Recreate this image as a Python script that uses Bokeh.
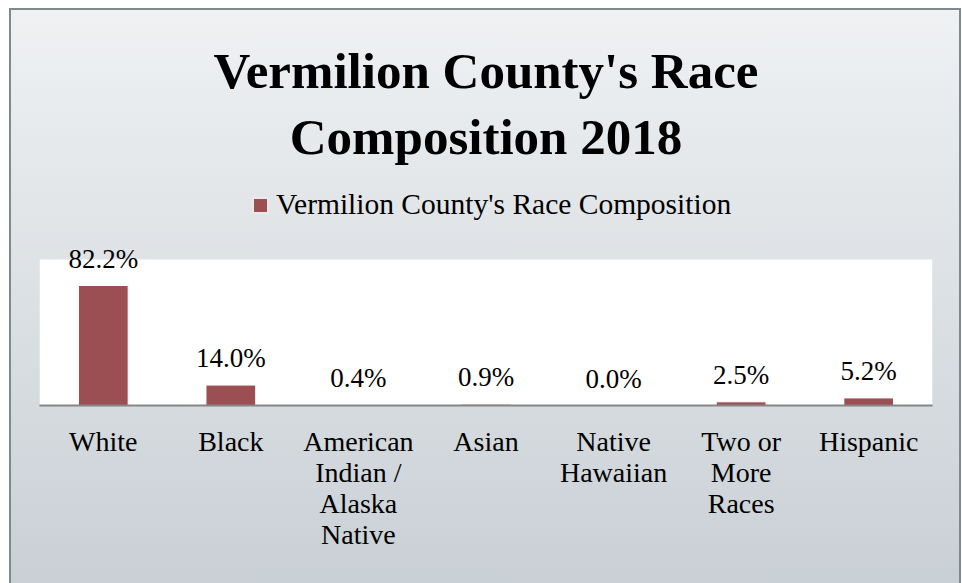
from bokeh.plotting import figure
from bokeh.models import ColumnDataSource, Legend, LegendItem, Title, FactorRange, BoxAnnotation
from bokeh.core.properties import value
from bokeh.embed import file_html
from bokeh.resources import INLINE

categories = ["White", "Black", "American\nIndian /\nAlaska\nNative", "Asian",
              "Native\nHawaiian", "Two or\nMore\nRaces", "Hispanic"]
shares = [82.2, 14.0, 0.4, 0.9, 0.0, 2.5, 5.2]
share_labels = ["82.2%", "14.0%", "0.4%", "0.9%", "0.0%", "2.5%", "5.2%"]
series_name = "Vermilion County's Race Composition"
title_lines = ["Vermilion County's Race", "Composition 2018"]
axis_max = 100

FONT = "Liberation Serif"
BAR = "#9b4f52"

src = ColumnDataSource(dict(cat=categories, val=shares, lab=share_labels))

# frame spans the white plot area plus the legend band above it
p = figure(width=952, height=578, x_range=FactorRange(*categories, range_padding=0),
           y_range=(0, 155.5), output_backend="svg", toolbar_location=None,
           min_border_left=30, min_border_right=29, min_border_bottom=181,
           min_border_top=170)
p.title = None
p.border_fill_alpha = 0
p.background_fill_alpha = 0
p.outline_line_color = None
p.styles = {"background": "linear-gradient(to bottom, #eff1f3, #c9d0d5)",
            "outline": "2px solid #7f8a90", "outline-offset": "-2px",
            "margin": "8px 0 0 9px"}

# white plot area (0 .. axis max)
p.add_layout(BoxAnnotation(bottom=0, top=axis_max, fill_color="white", fill_alpha=1,
                           line_color=None, level="underlay"))

r = p.vbar(x="cat", top="val", width=0.39, source=src, fill_color=BAR,
           line_color="white", line_width=1)
p.text(x="cat", y="val", text="lab", source=src, text_align="center",
       text_baseline="alphabetic", y_offset=-27, text_font=value(FONT),
       text_font_size="27px", text_color="black")

p.yaxis.visible = False
p.grid.visible = False
ax = p.xaxis[0]
ax.axis_line_color = "#868686"
ax.axis_line_width = 2
ax.major_tick_line_color = None
ax.minor_tick_line_color = None
ax.major_label_standoff = 14
ax.major_label_text_font = FONT
ax.major_label_text_font_size = "28px"
ax.major_label_text_color = "black"
ax.major_label_text_line_height = 1.0

legend = Legend(items=[LegendItem(label=series_name, renderers=[r])],
                orientation="horizontal", location=(212, 184),
                label_text_font=FONT, label_text_font_size="29.5px",
                label_text_color="black", glyph_width=18, glyph_height=18,
                background_fill_alpha=0, border_line_alpha=0,
                padding=0, margin=0, label_standoff=7)
p.add_layout(legend, "center")
p.add_layout(Title(text=title_lines[1], align="center", text_font=FONT,
                   text_font_size="51px", text_font_style="bold", text_color="black",
                   standoff=28), "above")
p.add_layout(Title(text=title_lines[0], align="center", text_font=FONT,
                   text_font_size="51px", text_font_style="bold", text_color="black",
                   standoff=-12), "above")

open("out.html", "w").write(file_html(p, INLINE))
